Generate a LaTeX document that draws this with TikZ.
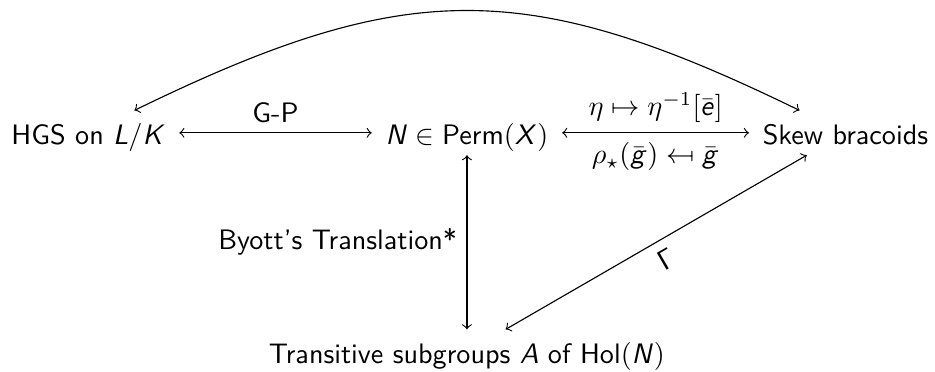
\documentclass[tikz,border=0pt]{standalone}
\usepackage{stmaryrd}
\renewcommand{\familydefault}{\sfdefault}
\DeclareMathAlphabet{\mathsfit}{OT1}{cmss}{m}{sl}
\DeclareMathAlphabet{\mathsfup}{OT1}{cmss}{m}{n}

\begin{document}
\begin{tikzpicture}[obj/.style={anchor=base, inner xsep=4.7pt, inner ysep=3pt, text height=9pt, text depth=0.5pt}]
\useasboundingbox (0,0) rectangle (11.67,4.64);
\node[obj] (hgs) at (1.104, 2.833) {HGS on $\mathsfit{L}/\mathsfit{K}$};
\node[obj] (perm) at (5.828, 2.833) {$\mathsfit{N} \in \mathsfup{Perm}(\mathsfit{X})$};
\node[obj] (skew) at (10.552, 2.833) {Skew bracoids};
\node[obj] (trans) at (5.828, 0.1) {Transitive subgroups $\mathsfit{A}$ of $\mathsfup{Hol}(\mathsfit{N})$};
\draw[<->] (hgs) -- node[above] {G-P} (perm);
\draw[<->] (perm) -- node[above] {$\eta \mapsto \eta^{-1}[\bar{\mathsfit{e}}]$} node[below] {$\rho_\star(\bar{\mathsfit{g}}) \mapsfrom \bar{\mathsfit{g}}$} (skew);
\draw[<->] (perm) -- node[left] {Byott's Translation*} (trans);
\draw[<->] (skew) -- node[below, sloped] {$\mathsfup{\Gamma}$} (trans);
\draw[<->] (hgs) to[out=26, in=154, looseness=1.17] (skew);
\end{tikzpicture}
\end{document}
